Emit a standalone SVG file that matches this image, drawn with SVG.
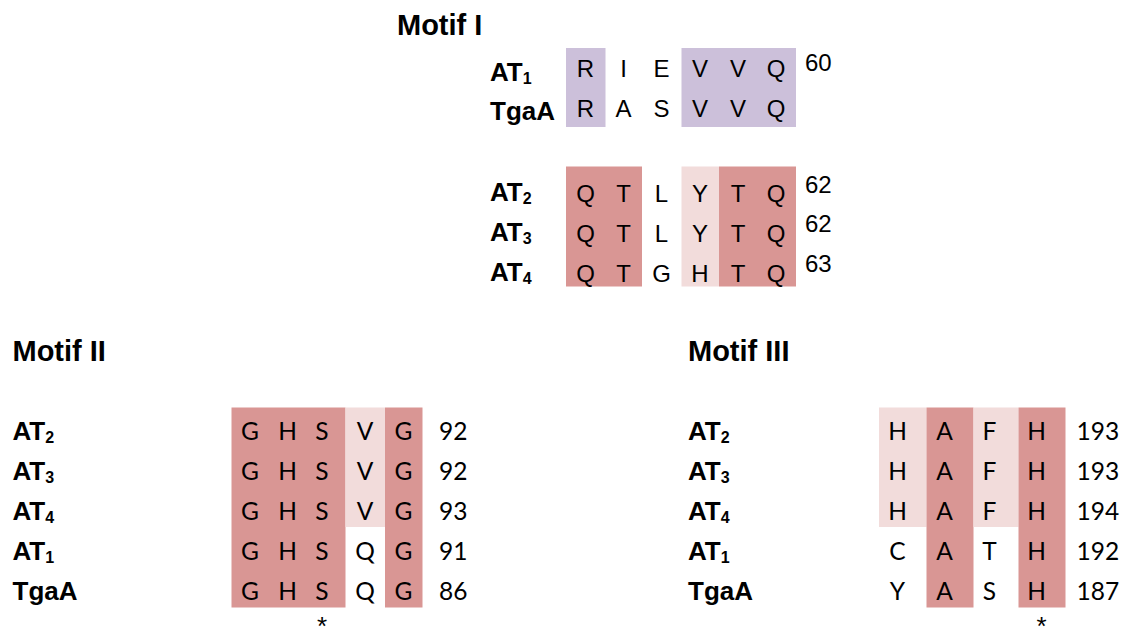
<svg xmlns="http://www.w3.org/2000/svg" width="1123" height="629" viewBox="0 0 1123 629">
<style>
.h{font-family:"Liberation Sans",Arial,sans-serif;font-weight:bold;font-size:29px;fill:#000}
.lb{font-family:"Liberation Sans",Arial,sans-serif;font-weight:bold;font-size:26px;fill:#000}
.sub{font-size:16px}
.s1{font-family:"Liberation Sans",Arial,sans-serif;font-size:24px;fill:#000;text-anchor:middle}
.n1{font-family:"Liberation Sans",Arial,sans-serif;font-size:24px;fill:#000}
.s2{font-family:Lato,"Open Sans",sans-serif;font-size:24.5px;fill:#000;text-anchor:middle}
.n2{font-family:Lato,"Open Sans",sans-serif;font-size:24.5px;fill:#000}
.ast{font-family:"Liberation Sans",Arial,sans-serif;font-size:26px;fill:#000;text-anchor:middle}
.pu{fill:#CCC0DA}
.rd{fill:#D99694}
.pk{fill:#F2DCDB}
</style>
<rect width="1123" height="629" fill="#fff"/>

<g id="motif1">
<text class="h" x="397" y="35">Motif I</text>
<rect class="pu" x="566" y="48" width="39.5" height="79"/>
<rect class="pu" x="681.5" y="48" width="114.5" height="79"/>
<text class="lb" x="490" y="81">AT<tspan class="sub" dy="3">1</tspan></text>
<text class="lb" x="490" y="120">TgaA</text>
<g class="s1">
<text x="585.5" y="77">R</text><text x="623.5" y="77">I</text><text x="661.5" y="77">E</text><text x="700" y="77">V</text><text x="738" y="77">V</text><text x="776" y="77">Q</text>
<text x="585.5" y="117">R</text><text x="623.5" y="117">A</text><text x="661.5" y="117">S</text><text x="700" y="117">V</text><text x="738" y="117">V</text><text x="776" y="117">Q</text>
</g>
<text class="n1" x="805" y="71">60</text>

<rect class="rd" x="566" y="166.5" width="76" height="120"/>
<rect class="pk" x="681.5" y="166.5" width="37.5" height="120"/>
<rect class="rd" x="719" y="166.5" width="77" height="120"/>
<text class="lb" x="490" y="201">AT<tspan class="sub" dy="3">2</tspan></text>
<text class="lb" x="490" y="241">AT<tspan class="sub" dy="3">3</tspan></text>
<text class="lb" x="490" y="281">AT<tspan class="sub" dy="3">4</tspan></text>
<g class="s1">
<text x="585.5" y="202">Q</text><text x="623.5" y="202">T</text><text x="661.5" y="202">L</text><text x="700" y="202">Y</text><text x="738" y="202">T</text><text x="776" y="202">Q</text>
<text x="585.5" y="242">Q</text><text x="623.5" y="242">T</text><text x="661.5" y="242">L</text><text x="700" y="242">Y</text><text x="738" y="242">T</text><text x="776" y="242">Q</text>
<text x="585.5" y="282">Q</text><text x="623.5" y="282">T</text><text x="661.5" y="282">G</text><text x="700" y="282">H</text><text x="738" y="282">T</text><text x="776" y="282">Q</text>
</g>
<text class="n1" x="805" y="193">62</text>
<text class="n1" x="805" y="232">62</text>
<text class="n1" x="805" y="272">63</text>
</g>

<g id="motif2">
<text class="h" x="12.5" y="361">Motif II</text>
<rect class="rd" x="231.5" y="407.5" width="114" height="200"/>
<rect class="pk" x="345.5" y="407.5" width="39.5" height="119.5"/>
<rect class="rd" x="385" y="407.5" width="37.5" height="200"/>
<text class="lb" x="12.5" y="440">AT<tspan class="sub" dy="3">2</tspan></text>
<text class="lb" x="12.5" y="480">AT<tspan class="sub" dy="3">3</tspan></text>
<text class="lb" x="12.5" y="520">AT<tspan class="sub" dy="3">4</tspan></text>
<text class="lb" x="12.5" y="560">AT<tspan class="sub" dy="3">1</tspan></text>
<text class="lb" x="12.5" y="600">TgaA</text>
<g class="s2">
<text x="250" y="440">G</text><text x="287.5" y="440">H</text><text x="322" y="440">S</text><text x="365" y="440">V</text><text x="403.5" y="440">G</text>
<text x="250" y="480">G</text><text x="287.5" y="480">H</text><text x="322" y="480">S</text><text x="365" y="480">V</text><text x="403.5" y="480">G</text>
<text x="250" y="520">G</text><text x="287.5" y="520">H</text><text x="322" y="520">S</text><text x="365" y="520">V</text><text x="403.5" y="520">G</text>
<text x="250" y="560">G</text><text x="287.5" y="560">H</text><text x="322" y="560">S</text><text x="365" y="560">Q</text><text x="403.5" y="560">G</text>
<text x="250" y="600">G</text><text x="287.5" y="600">H</text><text x="322" y="600">S</text><text x="365" y="600">Q</text><text x="403.5" y="600">G</text>
</g>
<g class="n2">
<text x="439" y="440">92</text><text x="439" y="480">92</text><text x="439" y="520">93</text><text x="439" y="560">91</text><text x="439" y="600">86</text>
</g>
<text class="ast" x="322" y="635">*</text>
</g>

<g id="motif3">
<text class="h" x="688" y="361">Motif III</text>
<rect class="pk" x="879" y="407.5" width="47.5" height="119.5"/>
<rect class="rd" x="926.5" y="407.5" width="47" height="200"/>
<rect class="pk" x="973.5" y="407.5" width="45" height="119.5"/>
<rect class="rd" x="1018.5" y="407.5" width="47" height="200"/>
<text class="lb" x="688" y="440">AT<tspan class="sub" dy="3">2</tspan></text>
<text class="lb" x="688" y="480">AT<tspan class="sub" dy="3">3</tspan></text>
<text class="lb" x="688" y="520">AT<tspan class="sub" dy="3">4</tspan></text>
<text class="lb" x="688" y="560">AT<tspan class="sub" dy="3">1</tspan></text>
<text class="lb" x="688" y="600">TgaA</text>
<g class="s2">
<text x="897.5" y="440">H</text><text x="944.5" y="440">A</text><text x="989.5" y="440">F</text><text x="1036.5" y="440">H</text>
<text x="897.5" y="480">H</text><text x="944.5" y="480">A</text><text x="989.5" y="480">F</text><text x="1036.5" y="480">H</text>
<text x="897.5" y="520">H</text><text x="944.5" y="520">A</text><text x="989.5" y="520">F</text><text x="1036.5" y="520">H</text>
<text x="897.5" y="560">C</text><text x="944.5" y="560">A</text><text x="989.5" y="560">T</text><text x="1036.5" y="560">H</text>
<text x="897.5" y="600">Y</text><text x="944.5" y="600">A</text><text x="989.5" y="600">S</text><text x="1036.5" y="600">H</text>
</g>
<g class="n2">
<text x="1076.5" y="440">193</text><text x="1076.5" y="480">193</text><text x="1076.5" y="520">194</text><text x="1076.5" y="560">192</text><text x="1076.5" y="600">187</text>
</g>
<text class="ast" x="1041.5" y="635">*</text>
</g>
</svg>
